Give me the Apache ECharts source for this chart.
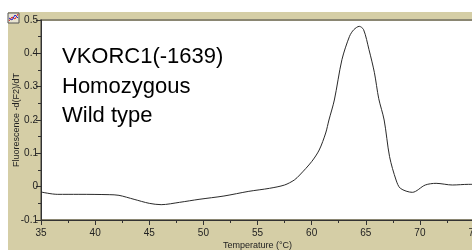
<!DOCTYPE html>
<html>
<head>
<meta charset="utf-8">
<script src="https://cdn.jsdelivr.net/npm/echarts@6/dist/echarts.min.js"></script>
<style>
  html, body { margin: 0; padding: 0; background: #fff; }
  #chart { width: 472px; height: 250px; }
</style>
</head>
<body>
<div id="chart"></div>
<script>
// melt curve
const temperature = [35.0, 36.5, 38.5, 41.3, 42.2, 43.6, 45.0, 46.1, 47.8, 49.6, 51.9, 54.2, 56.1, 57.5,
    58.4, 58.9, 60.0, 60.7, 61.3, 61.6, 62.1, 62.8, 63.5, 63.9, 64.4, 64.8, 65.3, 65.8, 66.2, 66.7,
    67.2, 67.8, 68.2, 69.3, 70.5, 71.5, 73.0, 74.5, 75.0];
const derivative = [-0.016, -0.023, -0.023, -0.024, -0.026, -0.038, -0.050, -0.054, -0.047, -0.038, -0.028, -0.014, -0.005, 0.005,
    0.020, 0.035, 0.075, 0.110, 0.161, 0.200, 0.260, 0.381, 0.451, 0.471, 0.481, 0.471, 0.411, 0.342, 0.264, 0.200,
    0.090, 0.020, -0.005, -0.017, 0.005, 0.010, 0.005, 0.007, 0.007];
const labelLines = ['VKORC1(-1639)', 'Homozygous', 'Wild type'];

const beige = '#d5cea6';
const axisColor = '#333';
const narrow = '"Liberation Sans Narrow", "Liberation Sans", Arial, sans-serif';

const chart = echarts.init(document.getElementById('chart'));

const option = {
    backgroundColor: '#fff',
    animation: false,
    grid: {
        show: true,
        left: 41,
        top: 20,
        right: -2,
        bottom: 30,
        outerBoundsMode: 'none',
        containLabel: false,
        backgroundColor: '#fff',
        borderColor: '#8a8672',
        borderWidth: 2
    },
    xAxis: {
        type: 'value',
        min: 35,
        max: 75,
        interval: 5,
        name: 'Temperature (°C)',
        nameLocation: 'middle',
        nameGap: 21,
        nameMoveOverlap: false,
        nameTextStyle: { fontSize: 9, color: '#222', fontFamily: narrow },
        axisLine: { onZero: false, lineStyle: { color: axisColor, width: 1 } },
        axisTick: { length: 5, lineStyle: { color: axisColor } },
        minorTick: { show: true, splitNumber: 2, length: 3, lineStyle: { color: axisColor } },
        axisLabel: { fontSize: 10, color: '#222', fontFamily: narrow, margin: 8 },
        splitLine: { show: false }
    },
    yAxis: {
        type: 'value',
        min: -0.1,
        max: 0.5,
        interval: 0.1,
        name: 'Fluorescence -d(F2)/dT',
        nameLocation: 'middle',
        nameGap: 20,
        nameMoveOverlap: false,
        nameTextStyle: { fontSize: 9, color: '#222', fontFamily: narrow },
        axisLine: { show: true, onZero: false, lineStyle: { color: axisColor, width: 1 } },
        axisTick: { show: true, length: 5, lineStyle: { color: axisColor } },
        minorTick: { show: true, splitNumber: 2, length: 3, lineStyle: { color: axisColor } },
        axisLabel: {
            fontSize: 10, color: '#222', fontFamily: narrow, margin: 3,
            formatter: v => (Math.abs(v) < 1e-9 ? '0' : String(Math.round(v * 10) / 10))
        },
        splitLine: { show: false }
    },
    graphic: [
        // beige frame behind the plot
        { type: 'rect', z: -10, silent: true, shape: { x: 8, y: 12, width: 464, height: 238 }, style: { fill: beige } },
        // little chart icon in the corner
        { type: 'rect', z: 10, shape: { x: 8, y: 13, width: 11, height: 10 }, style: { fill: '#e8e4d0', stroke: '#555', lineWidth: 1 } },
        { type: 'polyline', z: 11, shape: { points: [[9, 21], [12, 17], [15, 19], [18, 14]] }, style: { stroke: '#d22', lineWidth: 1, fill: null } },
        { type: 'polyline', z: 11, shape: { points: [[9, 18], [12, 20], [15, 15], [18, 18]] }, style: { stroke: '#22c', lineWidth: 1, fill: null } },
        ...labelLines.map((t, i) => ({
            type: 'text',
            z: 20,
            left: 62,
            top: 46 + i * 29.5,
            style: { text: t, fontSize: 22, fill: '#000', fontFamily: 'Liberation Sans, Arial, sans-serif' }
        }))
    ],
    series: [
        {
            type: 'line',
            data: temperature.map((t, i) => [t, derivative[i]]),
            showSymbol: false,
            smooth: 0.3,
            clip: true,
            lineStyle: { color: '#2a2a2a', width: 1 }
        }
    ]
};

chart.setOption(option);
</script>
</body>
</html>
